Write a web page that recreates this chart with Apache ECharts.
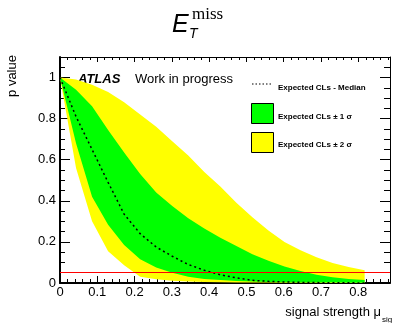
<!DOCTYPE html>
<html>
<head>
<meta charset="utf-8">
<script src="https://cdn.jsdelivr.net/npm/echarts@6/dist/echarts.min.js"></script>
<style>
  html, body { margin: 0; padding: 0; background: #fff; }
  #chart { width: 396px; height: 323px; }
</style>
</head>
<body>
<div id="chart"></div>
<script>
  // signal strength scan points
  var muValues = [0, 0.043, 0.086, 0.129, 0.172, 0.215, 0.258, 0.301, 0.344, 0.387,
                  0.43, 0.473, 0.516, 0.559, 0.602, 0.645, 0.688, 0.731, 0.774, 0.817];
  // expected CLs bands
  var yellowLow  = [1, 0.56, 0.30, 0.155, 0.087, 0.031, 0.018, 0.011, 0.007, 0.005,
                    0.004, 0.003, 0.002, 0.002, 0.001, 0.001, 0.001, 0, 0, 0];
  var greenLow   = [1, 0.68, 0.42, 0.283, 0.185, 0.115, 0.075, 0.05, 0.03, 0.02,
                    0.014, 0.01, 0.007, 0.005, 0.004, 0.003, 0.002, 0.002, 0.001, 0.001];
  var median     = [1, 0.81, 0.65, 0.49, 0.335, 0.24, 0.175, 0.13, 0.09, 0.062,
                    0.04, 0.025, 0.013, 0.008, 0.005, 0.003, 0.002, 0.001, 0.001, 0];
  var greenHigh  = [1, 0.94, 0.86, 0.745, 0.635, 0.53, 0.44, 0.375, 0.315, 0.265,
                    0.22, 0.18, 0.14, 0.108, 0.08, 0.058, 0.04, 0.028, 0.02, 0.014];
  var yellowHigh = [1, 0.99, 0.965, 0.93, 0.88, 0.82, 0.76, 0.69, 0.62, 0.54,
                    0.47, 0.39, 0.32, 0.255, 0.2, 0.16, 0.125, 0.097, 0.078, 0.062];
  var clsLimit = 0.05;

  var font = '"Liberation Sans", Arial, sans-serif';

  function pairs(vals) {
    return muValues.map(function (x, i) { return [x, vals[i]]; });
  }

  // band between lo and hi drawn as one polygon through the axis scales
  function band(lo, hi, color) {
    return {
      type: 'custom', silent: true, data: [0],
      renderItem: function (params, api) {
        var pts = [];
        for (var i = 0; i < muValues.length; i++) pts.push(api.coord([muValues[i], hi[i]]));
        for (var j = muValues.length - 1; j >= 0; j--) pts.push(api.coord([muValues[j], lo[j]]));
        return { type: 'polygon', shape: { points: pts }, style: { fill: color, stroke: null } };
      }
    };
  }

  var myChart = echarts.init(document.getElementById('chart'));

  var xBase = {
    type: 'value', min: 0, max: 0.885, interval: 0.1,
    axisLine: { show: true, onZero: false, lineStyle: { color: '#000', width: 2 } },
    axisTick: { inside: true, length: 7, lineStyle: { color: '#000' } },
    minorTick: { show: true, splitNumber: 5, length: 4, lineStyle: { color: '#000' } },
    splitLine: { show: false },
    axisLabel: { color: '#000', fontSize: 13, fontFamily: font, margin: 3, showMaxLabel: false }
  };
  var yBase = {
    type: 'value', min: 0, max: 1.1, interval: 0.2,
    axisLine: { show: true, onZero: false, lineStyle: { color: '#000', width: 2 } },
    axisTick: { inside: true, length: 10, lineStyle: { color: '#000' } },
    minorTick: { show: true, splitNumber: 4, length: 5, lineStyle: { color: '#000' } },
    splitLine: { show: false },
    axisLabel: { color: '#000', fontSize: 13, fontFamily: font, margin: 4, showMaxLabel: false }
  };

  var option = {
    animation: false,
    grid: { left: 60, right: 6, top: 57, bottom: 40 },
    xAxis: [
      xBase,
      Object.assign({}, xBase, {
        position: 'top',
        axisLine: { show: true, onZero: false, lineStyle: { color: '#000', width: 1 } },
        axisTick: { inside: true, length: 5, lineStyle: { color: '#000' } },
        minorTick: { show: true, splitNumber: 5, length: 3, lineStyle: { color: '#000' } },
        axisLabel: { show: false }
      })
    ],
    yAxis: [
      yBase,
      Object.assign({}, yBase, {
        position: 'right',
        axisLine: { show: true, onZero: false, lineStyle: { color: '#000', width: 1 } },
        axisTick: { inside: true, length: 10, lineStyle: { color: '#000' } },
        minorTick: { show: true, splitNumber: 4, length: 6, lineStyle: { color: '#000' } },
        axisLabel: { show: false }
      })
    ],
    series: [
      band(yellowLow, yellowHigh, '#ffff00'),
      band(greenLow, greenHigh, '#00ff00'),
      {
        type: 'line', data: pairs(median), showSymbol: false, silent: true,
        lineStyle: { color: '#000', width: 1.5, type: [2, 3] },
        markLine: {
          silent: true, symbol: 'none', label: { show: false },
          lineStyle: { color: '#ff0000', width: 1, type: 'solid' },
          data: [{ yAxis: clsLimit }]
        }
      }
    ],
    graphic: [
      // title E_T^miss
      { type: 'text', x: 172, y: 25, style: { text: 'E', font: 'italic 25px ' + font, fill: '#000', verticalAlign: 'middle' } },
      { type: 'text', x: 189, y: 34, style: { text: 'T', font: 'italic 14px ' + font, fill: '#000', verticalAlign: 'middle' } },
      { type: 'text', x: 192, y: 15, style: { text: 'miss', font: '17px "Liberation Serif", serif', fill: '#000', verticalAlign: 'middle' } },
      // axis titles
      { type: 'text', x: 12, y: 76, rotation: Math.PI / 2,
        style: { text: 'p value', font: '13px ' + font, fill: '#000', align: 'center', verticalAlign: 'middle' } },
      { type: 'text', x: 381, y: 312,
        style: { text: 'signal strength μ', font: '13px ' + font, fill: '#000', align: 'right', verticalAlign: 'middle' } },
      { type: 'text', x: 382, y: 320,
        style: { text: 'sig', font: '8px ' + font, fill: '#000', verticalAlign: 'middle' } },
      // labels
      { type: 'text', x: 78, y: 79,
        style: { text: 'ATLAS', font: 'italic bold 13px ' + font, fill: '#000', verticalAlign: 'middle' } },
      { type: 'text', x: 135, y: 79,
        style: { text: 'Work in progress', font: '13px ' + font, fill: '#000', verticalAlign: 'middle' } },
      // legend
      { type: 'line', shape: { x1: 252, y1: 84, x2: 272, y2: 84 },
        style: { stroke: '#000', lineWidth: 1.2, lineDash: [1.5, 2] } },
      { type: 'text', x: 278, y: 88,
        style: { text: 'Expected CLs - Median', font: 'bold 8px ' + font, fill: '#000', verticalAlign: 'middle' } },
      { type: 'rect', shape: { x: 251.5, y: 103.5, width: 22, height: 20 },
        style: { fill: '#00ff00', stroke: '#000', lineWidth: 1 } },
      { type: 'text', x: 278, y: 117,
        style: { text: 'Expected CLs ± 1 σ', font: 'bold 8px ' + font, fill: '#000', verticalAlign: 'middle' } },
      { type: 'rect', shape: { x: 251.5, y: 132.5, width: 22, height: 20 },
        style: { fill: '#ffff00', stroke: '#000', lineWidth: 1 } },
      { type: 'text', x: 278, y: 145,
        style: { text: 'Expected CLs ± 2 σ', font: 'bold 8px ' + font, fill: '#000', verticalAlign: 'middle' } }
    ]
  };

  myChart.setOption(option);
</script>
</body>
</html>
